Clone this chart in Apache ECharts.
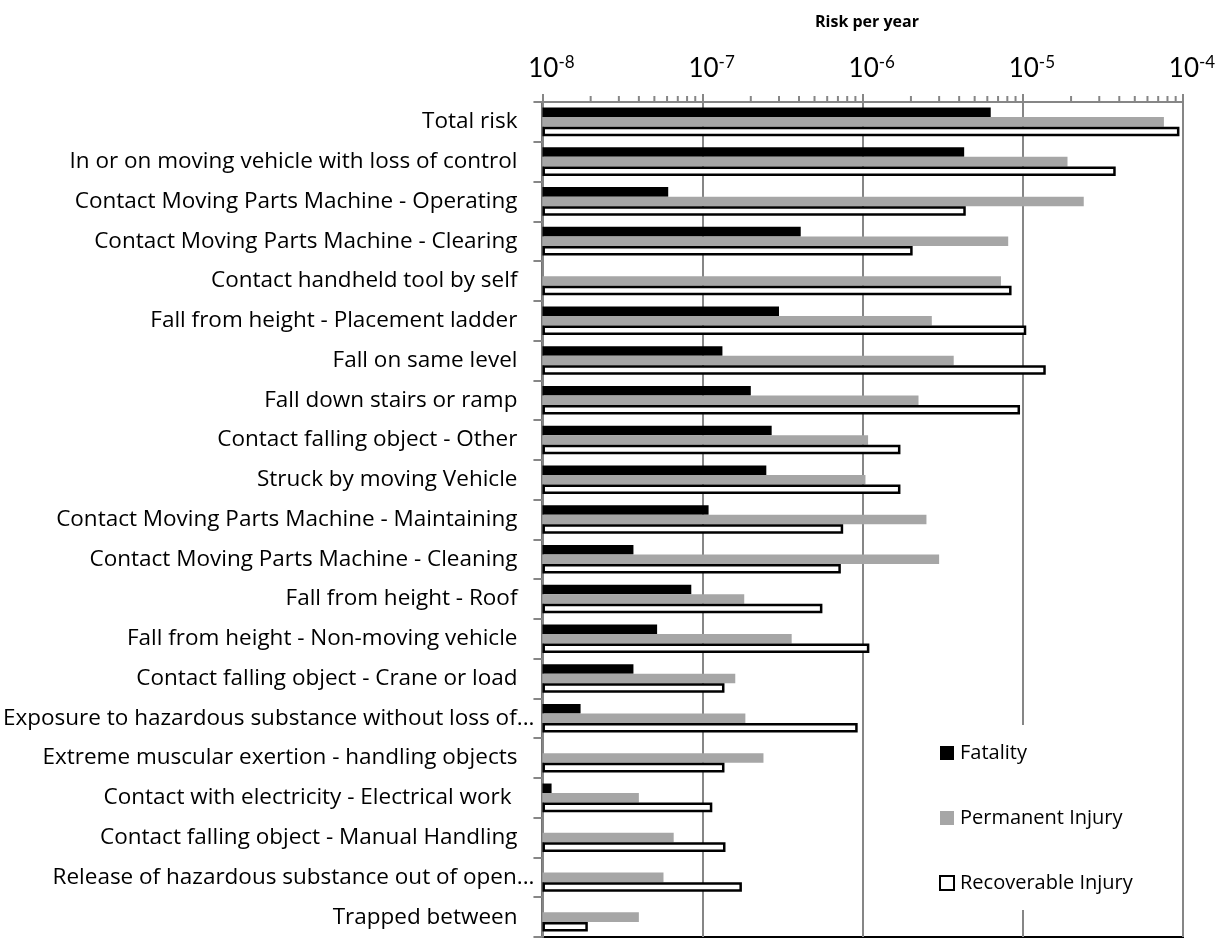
<!DOCTYPE html>
<html>
<head>
<meta charset="utf-8">
<script src="https://cdn.jsdelivr.net/npm/echarts@6/dist/echarts.min.js"></script>
<style>
  html, body { margin: 0; padding: 0; background: #fff; }
  #chart { width: 1221px; height: 938px; }
</style>
</head>
<body>
<div id="chart"></div>
<script>
// Hazard categories, top to bottom
const categories = [
  'Total risk',
  'In or on moving vehicle with loss of control',
  'Contact Moving Parts Machine - Operating',
  'Contact Moving Parts Machine - Clearing',
  'Contact handheld tool by self',
  'Fall from height - Placement ladder',
  'Fall on same level',
  'Fall down stairs or ramp',
  'Contact falling object - Other',
  'Struck by moving Vehicle',
  'Contact Moving Parts Machine - Maintaining',
  'Contact Moving Parts Machine - Cleaning',
  'Fall from height - Roof',
  'Fall from height - Non-moving vehicle',
  'Contact falling object - Crane or load',
  'Exposure to hazardous substance without loss of...',
  'Extreme muscular exertion - handling objects',
  'Contact with electricity - Electrical work ',
  'Contact falling object - Manual Handling',
  'Release of hazardous substance out of open...',
  'Trapped between'
];

// Risk per year for each outcome
const fatality = [
  6.3e-6, 4.3e-6, 6.1e-8, 4.1e-7, null, 3.0e-7, 1.33e-7, 2.0e-7, 2.7e-7, 2.5e-7,
  1.09e-7, 3.7e-8, 8.5e-8, 5.2e-8, 3.7e-8, 1.73e-8, null, 1.14e-8, null, null, null
];
const permanentInjury = [
  7.6e-5, 1.9e-5, 2.4e-5, 8.1e-6, 7.3e-6, 2.7e-6, 3.7e-6, 2.23e-6, 1.08e-6, 1.04e-6,
  2.5e-6, 3.0e-6, 1.82e-7, 3.6e-7, 1.6e-7, 1.85e-7, 2.4e-7, 4.0e-8, 6.6e-8, 5.7e-8, 4.0e-8
];
const recoverableInjury = [
  9.5e-5, 3.8e-5, 4.4e-6, 2.05e-6, 8.5e-6, 1.05e-5, 1.39e-5, 9.6e-6, 1.72e-6, 1.72e-6,
  7.55e-7, 7.3e-7, 5.6e-7, 1.1e-6, 1.37e-7, 9.3e-7, 1.37e-7, 1.15e-7, 1.39e-7, 1.76e-7, 1.92e-8
];

// Minor tick positions (2..9 within each decade)
const minorTickValues = [];
for (let e = -8; e < -4; e++) {
  for (let m = 2; m <= 9; m++) minorTickValues.push(m * Math.pow(10, e));
}

const FONT = '"Open Sans"';
const LABEL_SIZE = 22.5;
const GRID_GRAY = '#868686';

const chart = echarts.init(document.getElementById('chart'), null, { renderer: 'canvas' });

chart.setOption({
  animation: false,
  backgroundColor: '#ffffff',
  title: {
    text: 'Risk per year',
    left: 862,
    textAlign: 'center',
    top: 9,
    textStyle: { fontFamily: FONT, fontSize: 16, fontWeight: 'bold', color: '#000' }
  },
  legend: {
    orient: 'vertical',
    left: 929,
    top: 725,
    padding: [16, 12, 15, 10],
    itemGap: 41,
    itemWidth: 14,
    itemHeight: 14,
    icon: 'rect',
    backgroundColor: '#ffffff',
    data: ['Fatality', 'Permanent Injury', 'Recoverable Injury'],
    textStyle: { fontFamily: FONT, fontSize: 20, color: '#000', padding: [0, 0, 0, 1], lineHeight: 24 },
    z: 10
  },
  grid: {
    left: 542,
    right: 38,
    top: 102,
    bottom: 1,
    show: true,
    borderColor: '#000',
    borderWidth: 2,
    backgroundColor: 'transparent',
    containLabel: false
  },
  xAxis: {
    type: 'log',
    position: 'top',
    min: 1e-8,
    max: 1e-4,
    startValue: 1e-8,
    logBase: 10,
    axisLine: { show: true, lineStyle: { color: GRID_GRAY, width: 2 } },
    axisTick: { show: true, length: 8, lineStyle: { color: GRID_GRAY, width: 2 } },
    splitLine: { show: true, lineStyle: { color: GRID_GRAY, width: 2 } },
    axisLabel: {
      margin: 18,
      formatter: function (v) {
        const exp = Math.round(Math.log10(v));
        return '{b|10}{s|' + exp + '}';
      },
      rich: {
        b: { fontFamily: 'Lato', fontSize: 26, color: '#000', lineHeight: 30, padding: [0, 0, 0, 18] },
        s: { fontFamily: 'Lato', fontSize: 17, color: '#000', lineHeight: 18, verticalAlign: 'top' }
      }
    }
  },
  yAxis: {
    type: 'category',
    inverse: true,
    data: categories,
    axisLine: { show: true, lineStyle: { color: GRID_GRAY, width: 2 } },
    axisTick: { show: true, length: 9, lineStyle: { color: GRID_GRAY, width: 2 } },
    splitLine: { show: false },
    axisLabel: {
      // shortened names let their trailing dots run past the common right edge
      margin: 8,
      fontFamily: FONT,
      fontSize: LABEL_SIZE,
      color: '#000',
      formatter: function (name) {
        return name.endsWith('...') ? '{t|' + name + '}' : '{n|' + name + '}';
      },
      rich: {
        n: { fontFamily: FONT, fontSize: LABEL_SIZE, color: '#000', padding: [0, 17, 0, 0] },
        t: { fontFamily: FONT, fontSize: LABEL_SIZE, color: '#000' }
      }
    }
  },
  series: [
    {
      name: 'Fatality',
      type: 'bar',
      data: fatality,
      barGap: '0%',
      barCategoryGap: '28%',
      itemStyle: { color: '#000000' }
    },
    {
      name: 'Permanent Injury',
      type: 'bar',
      data: permanentInjury,
      barGap: '0%',
      barCategoryGap: '28%',
      itemStyle: { color: '#a6a6a6' }
    },
    {
      name: 'Recoverable Injury',
      type: 'bar',
      data: recoverableInjury,
      barGap: '0%',
      barCategoryGap: '28%',
      itemStyle: { color: '#ffffff', borderColor: '#000000', borderWidth: 2.5 }
    },
    {
      // minor ticks above the top axis
      type: 'custom',
      silent: true,
      clip: false,
      data: minorTickValues.map(function (v) { return [v, 0]; }),
      encode: { x: 0, y: 1 },
      renderItem: function (params, api) {
        const x = api.coord([api.value(0), 0])[0];
        const top = params.coordSys.y;
        return {
          type: 'line',
          shape: { x1: x, y1: top, x2: x, y2: top - 6 },
          style: { stroke: GRID_GRAY, lineWidth: 2 }
        };
      },
      z: 3
    }
  ]
});
</script>
</body>
</html>
